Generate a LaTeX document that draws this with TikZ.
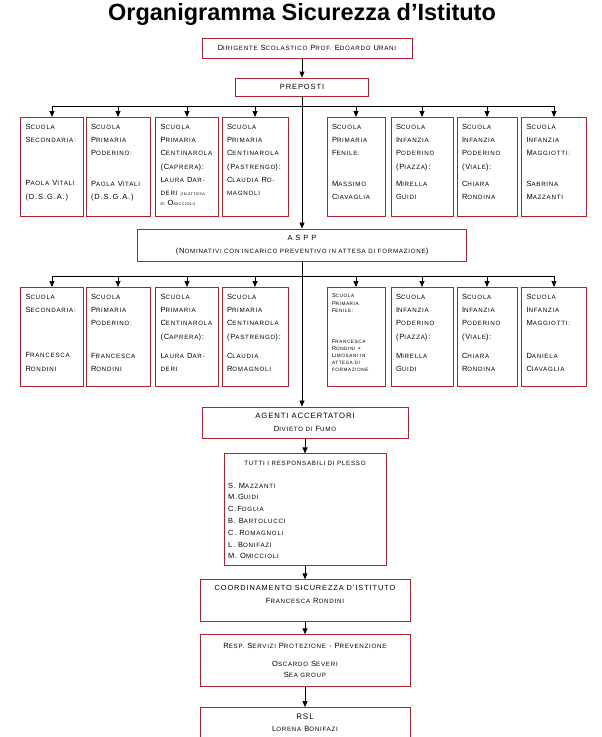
\documentclass[tikz,border=0pt]{standalone}
\usepackage{fontspec}
\setmainfont{Liberation Sans}[LetterSpace=12]
\newfontfamily\titlefont{Liberation Sans}
\usetikzlibrary{arrows.meta,positioning}
\definecolor{ssred}{HTML}{B2222E}
% maiuscoletto finto
\newcommand{\sm}[1]{{\fontsize{6.2}{6.2}\selectfont\MakeUppercase{#1}}}
\newcommand{\ssm}[1]{{\fontsize{4.7}{4.7}\selectfont\MakeUppercase{#1}}}
\newcommand{\xsm}[1]{{\fontsize{3.8}{3.8}\selectfont\MakeUppercase{#1}}}
\newcommand{\cella}[2]{\parbox[c][92pt][t]{#1}{\raggedright\hyphenpenalty=10000
  \fontsize{7.5}{13.3}\selectfont\vspace*{3pt}#2}}
\newcommand{\sopra}[2]{\parbox[c][#1][t]{200pt}{\centering
  \fontsize{7.5}{12.5}\selectfont\vspace*{3pt}#2}}

\begin{document}
\begin{tikzpicture}[x=1pt,y=-1pt,
  ente/.style={draw=ssred,line width=0.9pt,align=center,
    font=\fontsize{7.5}{12.5}\selectfont,inner sep=3pt},
  plesso/.style={draw=ssred,line width=0.9pt,anchor=north,
    inner xsep=5pt,inner ysep=3.5pt},
  bus/.style={line width=0.8pt},
  arr/.style={-{Triangle[width=5pt,length=6pt]},line width=0.8pt}]
  \useasboundingbox (0,0) rectangle (602,737);
  \node[font=\titlefont\bfseries\fontsize{23.5}{28}\selectfont,anchor=base] (titolo)
    at (302,20) {Organigramma Sicurezza d’Istituto};
  \node[ente,minimum width=210pt,minimum height=20pt] (dir) at (307,48)
    {D\sm{irigente} S\sm{colastico} P\sm{rof.} E\sm{doardo} U\sm{rani}};
  \node[ente,minimum width=133pt,minimum height=18pt,font=\fontsize{7.5}{9}\selectfont]
    (prep) at (302,87) {PREPOSTI};
  \coordinate (bus1) at (302,106);
  % preposti
  \node[plesso,minimum width=63pt] (p1) at (52,117) {\cella{53pt}{S\sm{cuola}\\
    S\sm{econdaria:}\\[30pt]P\sm{aola} V\sm{itali}\\(D.S.G.A.)}};
  \node[plesso,minimum width=64pt] (p2) at (118,117) {\cella{54pt}{S\sm{cuola}\\
    P\sm{rimaria}\\P\sm{oderino:}\\[17pt]P\sm{aola} V\sm{itali}\\(D.S.G.A.)}};
  \node[plesso,minimum width=63pt] (p3) at (187,117) {\cella{53pt}{S\sm{cuola}\\
    P\sm{rimaria}\\C\sm{entinarola}\\(C\sm{aprera}):\\L\sm{aura} D\sm{ar-}\\
    \sm{deri} \xsm{(in attesa}\\[-3pt]\xsm{di} O\xsm{miccioli)}}};
  \node[plesso,minimum width=66pt] (p4) at (255,117) {\cella{56pt}{S\sm{cuola}\\
    P\sm{rimaria}\\C\sm{entinarola}\\(P\sm{astrengo}):\\C\sm{laudia} R\sm{o-}\\
    \sm{magnoli}}};
  \node[plesso,minimum width=58pt] (p5) at (356,117) {\cella{48pt}{S\sm{cuola}\\
    P\sm{rimaria}\\F\sm{enile:}\\[17pt]M\sm{assimo}\\C\sm{iavaglia}}};
  \node[plesso,minimum width=62pt] (p6) at (422,117) {\cella{52pt}{S\sm{cuola}\\
    I\sm{nfanzia}\\P\sm{oderino}\\(P\sm{iazza}):\\[4pt]M\sm{irella}\\G\sm{uidi}}};
  \node[plesso,minimum width=60pt] (p7) at (487,117) {\cella{50pt}{S\sm{cuola}\\
    I\sm{nfanzia}\\P\sm{oderino}\\(V\sm{iale}):\\[4pt]C\sm{hiara}\\R\sm{ondina}}};
  \node[plesso,minimum width=65pt] (p8) at (554,117) {\cella{55pt}{S\sm{cuola}\\
    I\sm{nfanzia}\\M\sm{aggiotti:}\\[17pt]S\sm{abrina}\\M\sm{azzanti}}};
  \node[ente,minimum width=329pt,minimum height=32pt] (aspp) at (302,245)
    {{\fontsize{7.5}{9}\selectfont A S P P}\\
     (N\sm{ominativi con incarico preventivo in attesa di formazione})};
  \coordinate (bus2) at (302,276);
  % aspp
  \node[plesso,minimum width=63pt] (q1) at (52,287) {\cella{53pt}{S\sm{cuola}\\
    S\sm{econdaria:}\\[32pt]F\sm{rancesca}\\R\sm{ondini}}};
  \node[plesso,minimum width=64pt] (q2) at (118,287) {\cella{54pt}{S\sm{cuola}\\
    P\sm{rimaria}\\P\sm{oderino:}\\[19pt]F\sm{rancesca}\\R\sm{ondini}}};
  \node[plesso,minimum width=63pt] (q3) at (187,287) {\cella{53pt}{S\sm{cuola}\\
    P\sm{rimaria}\\C\sm{entinarola}\\(C\sm{aprera}):\\[6pt]L\sm{aura} D\sm{ar-}\\
    \sm{deri}}};
  \node[plesso,minimum width=66pt] (q4) at (255,287) {\cella{56pt}{S\sm{cuola}\\
    P\sm{rimaria}\\C\sm{entinarola}\\(P\sm{astrengo}):\\[6pt]C\sm{laudia}\\
    R\sm{omagnoli}}};
  \node[plesso,minimum width=58pt] (q5) at (356,287) {\cella{48pt}{\fontsize{5.6}{7}\selectfont
    S\ssm{cuola}\\[0.5pt]P\ssm{rimaria}\\[0.5pt]F\ssm{enile:}\\[24pt]F\ssm{rancesca}\\
    R\ssm{ondini} +\\L\ssm{imosani in}\\\ssm{attesa di}\\\ssm{formazione}}};
  \node[plesso,minimum width=62pt] (q6) at (422,287) {\cella{52pt}{S\sm{cuola}\\
    I\sm{nfanzia}\\P\sm{oderino}\\(P\sm{iazza}):\\[6pt]M\sm{irella}\\G\sm{uidi}}};
  \node[plesso,minimum width=60pt] (q7) at (487,287) {\cella{50pt}{S\sm{cuola}\\
    I\sm{nfanzia}\\P\sm{oderino}\\(V\sm{iale}):\\[6pt]C\sm{hiara}\\R\sm{ondina}}};
  \node[plesso,minimum width=65pt] (q8) at (554,287) {\cella{55pt}{S\sm{cuola}\\
    I\sm{nfanzia}\\M\sm{aggiotti:}\\[19pt]D\sm{aniela}\\C\sm{iavaglia}}};
  \node[ente,minimum width=206pt,minimum height=31pt] (agenti) at (305,422.5)
    {{\fontsize{7.7}{10}\selectfont AGENTI ACCERTATORI}\\D\sm{ivieto di} F\sm{umo}};
  \node[ente,below=15pt of agenti,inner sep=4pt] (tutti)
    {\parbox[c][104pt][t]{154pt}{\fontsize{7.5}{11.8}\selectfont\vspace*{3pt}
     {\centering\sm{Tutti i responsabili di plesso}\par}\vspace{11pt}
     \raggedright S. M\sm{azzanti}\\M.G\sm{uidi}\\C.F\sm{oglia}\\B. B\sm{artolucci}\\
     C. R\sm{omagnoli}\\L. B\sm{onifazi}\\M. O\sm{miccioli}}};
  \node[ente,below=13pt of tutti,minimum width=210pt] (coord)
    {\sopra{36pt}{{\fontsize{7.4}{10}\selectfont COORDINAMENTO SICUREZZA D’ISTITUTO}\\
     F\sm{rancesca} R\sm{ondini}}};
  \node[ente,below=12pt of coord,minimum width=210pt,minimum height=52pt,
    font=\fontsize{7.5}{11.5}\selectfont] (resp)
    {R\sm{esp.} S\sm{ervizi} P\sm{rotezione} - P\sm{revenzione}\\[6pt]
     O\sm{scardo} S\sm{everi}\\S\sm{ea group}};
  \node[ente,below=20pt of resp,minimum width=210pt] (rsl)
    {\sopra{40pt}{{\fontsize{8}{10}\selectfont RSL}\\L\sm{orena} B\sm{onifazi}}};
  % collegamenti
  \draw[arr] (dir.south -| prep) -- (prep.north);
  \draw[arr] (prep.south) -- (aspp.north -| prep);
  \draw[bus] (p1.north |- bus1) -- (p8.north |- bus1);
  \foreach \i in {1,...,8} \draw[arr] (p\i.north |- bus1) -- (p\i.north);
  \draw[arr] (aspp.south -| prep) -- (agenti.north -| prep);
  \draw[bus] (q1.north |- bus2) -- (q8.north |- bus2);
  \foreach \i in {1,...,8} \draw[arr] (q\i.north |- bus2) -- (q\i.north);
  \draw[arr] (agenti) -- (tutti);
  \draw[arr] (tutti) -- (coord);
  \draw[arr] (coord) -- (resp);
  \draw[arr] (resp) -- (rsl);
\end{tikzpicture}
\end{document}
